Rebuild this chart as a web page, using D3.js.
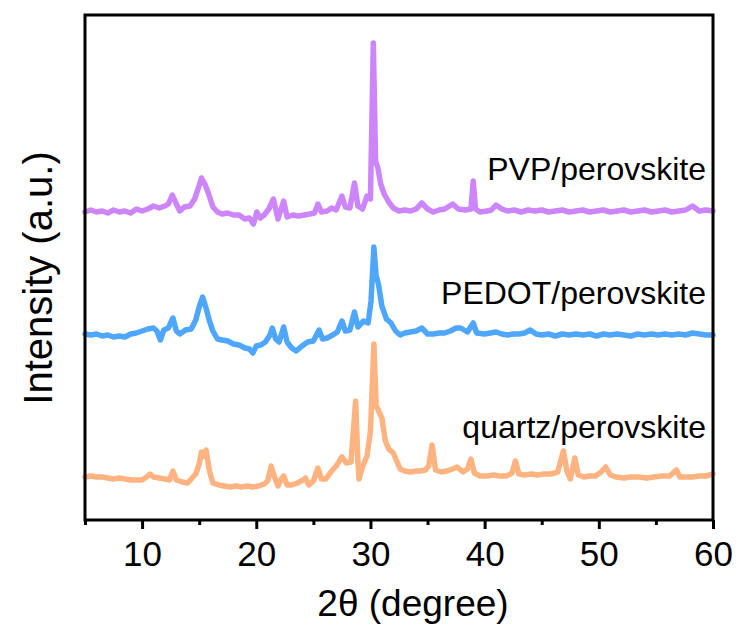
<!DOCTYPE html>
<html>
<head>
<meta charset="utf-8">
<script src="https://cdn.jsdelivr.net/npm/d3@7"></script>
<style>
  body { margin: 0; background: #fff; }
  svg text { font-family: "Liberation Sans", Arial, sans-serif; fill: #000; }
</style>
</head>
<body>
<div id="chart"></div>
<script>
// XRD patterns, 2theta (degree) vs intensity (a.u., offset per sample)
var pvpX = [5,5.5,6,6.5,7,7.5,8,8.5,9,9.5,10,10.5,11,11.5,12,12.3,12.65,13,13.3,13.7,14.2,14.6,14.9,15.2,15.5,15.8,16.2,16.6,17,17.5,18,18.5,19,19.4,19.75,20.05,20.35,20.7,21.1,21.5,21.9,22.4,22.7,23.2,23.7,24.2,24.7,25.1,25.4,25.7,26.2,26.6,27,27.5,27.8,28.2,28.6,28.9,29.3,29.7,30,30.25,30.45,30.65,30.9,31.2,31.6,32,32.5,33,33.5,34,34.5,35,35.5,36,36.5,37.2,37.7,38.3,38.8,39,39.2,39.6,40.2,40.6,41,41.5,42,42.6,43.2,43.8,44.4,45,45.6,46.2,46.8,47.4,48,48.6,49.2,49.8,50.4,51,51.6,52.2,52.8,53.4,54,54.6,55.2,55.8,56.4,57,57.6,58.2,58.8,59.4,60];
var pvpY = [308,310,308,309,307,310,308,309,307,311,309,311,314,312,314,316,325,316,309,313,314,321,331,342,336,327,313,308,306,307,305,305,301,302,296,308,302,305,311,321,301,319,303,305,304,305,306,307,316,308,309,312,310,324,313,312,337,314,311,324,321,477,359,352,336,326,318,312,309,310,309,311,317,311,308,310,311,316,311,310,311,339,311,308,309,310,315,311,309,310,308,310,309,310,308,309,310,308,309,310,308,309,310,308,309,310,308,309,310,308,309,310,308,309,310,314,309,310,309];

var pedotX = [5,5.5,6,6.5,7,7.5,8,8.5,9,9.5,10,10.5,11,11.3,11.6,11.9,12.3,12.7,13,13.3,13.8,14.3,14.7,15,15.3,15.6,15.9,16.2,16.6,17,17.5,18,18.5,19,19.4,19.7,20,20.4,20.8,21.2,21.4,21.7,22,22.4,22.7,23.1,23.5,24,24.5,25,25.5,25.8,26.2,26.7,27.1,27.5,27.8,28.2,28.6,28.9,29.4,29.8,30.05,30.3,30.5,30.7,31,31.4,31.8,32.2,32.6,33,33.5,34,34.5,35,35.5,36,36.5,37,37.5,37.9,38.5,39,39.3,40,40.5,41,41.5,42,42.5,43,43.5,44,44.5,45,45.6,46.2,46.8,47.4,48,48.6,49.2,49.8,50.4,51,51.6,52.2,52.8,53.4,54,54.6,55.2,55.8,56.4,57,57.6,58.2,58.8,59.4,60];
var pedotY = [186,185,186,184,185,183,184,183,186,187,189,191,192,189,180,190,192,202,189,186,190,191,200,213,223,212,199,189,181,180,179,176,175,172,171,167,174,175,178,185,192,181,178,193,178,172,169,174,178,179,190,181,182,185,188,199,189,190,208,193,199,197,219,273,244,236,214,201,197,189,185,187,188,189,192,186,186,187,187,189,192,192,188,197,187,186,187,188,186,185,186,186,187,190,186,185,186,184,186,185,186,185,186,184,186,185,186,185,184,186,185,186,185,186,185,186,185,187,186,185,185];

var quartzX = [5,5.5,6,6.5,7,7.5,8,8.5,9,9.5,10,10.4,10.7,11,11.5,12,12.4,12.7,13,13.5,14,14.3,14.7,15,15.2,15.4,15.6,15.9,16.2,16.7,17.2,17.7,18.2,18.7,19.2,19.7,20.2,20.7,21,21.3,21.6,21.9,22.2,22.4,22.7,23.1,23.6,24.1,24.3,24.6,25,25.4,25.7,26.1,26.6,27,27.5,27.9,28.3,28.7,28.9,29,29.3,29.7,30,30.3,30.5,30.8,31,31.3,31.6,32,32.3,32.6,33,33.5,34,34.4,34.8,35.1,35.4,35.7,36.2,36.7,37.2,37.6,38.1,38.5,38.8,39.1,39.6,40.2,40.8,41.3,41.9,42.4,42.7,43,43.5,44.1,44.6,45.2,45.8,46.4,46.9,47.2,47.5,47.9,48.2,48.7,49.2,49.7,50.2,50.6,51,51.5,52.2,52.8,53.5,54.2,54.8,55.5,56.2,56.8,57.1,57.6,58.2,58.8,59.4,60];
var quartzY = [43,44,43,43,42,41,42,41,40,40,40,43,46,43,42,41,40,49,40,38,37,41,46,56,68,64,70,49,37,35,34,33,34,33,34,33,34,36,39,54,43,34,41,44,35,35,37,40,42,35,39,52,41,41,49,54,63,57,58,119,59,41,53,64,89,176,114,107,102,79,71,67,59,51,49,48,49,49,50,54,75,50,48,49,51,53,48,51,61,47,44,44,45,44,44,47,59,46,45,46,45,46,46,48,69,49,41,62,45,43,44,44,48,53,45,43,42,43,43,42,43,44,44,50,43,43,43,44,44,46];

var seriesNames = ["PVP/perovskite", "PEDOT/perovskite", "quartz/perovskite"];
var seriesColors = ["#cc85fb", "#4fa7fd", "#ffb381"];
var labelY = [340, 216, 82];   // label baseline, in intensity units
var xTicks = [10, 20, 30, 40, 50, 60];
var xMinorTicks = [5, 15, 25, 35, 45, 55];

var W = 739, H = 628;
var mLeft = 85, mRight = 713, mTop = 15, mBottom = 520;

var svg = d3.select("#chart").append("svg")
    .attr("width", W)
    .attr("height", H);

var x = d3.scaleLinear().domain([5, 60]).range([mLeft, mRight]);
var y = d3.scaleLinear().domain([0, 505]).range([mBottom, mTop]);

var data = [
    {x: pvpX, y: pvpY},
    {x: pedotX, y: pedotY},
    {x: quartzX, y: quartzY}
];

var line = d3.line()
    .x(function(d){ return x(d[0]); })
    .y(function(d){ return y(d[1]); });

data.forEach(function(s, i){
    var pts = s.x.map(function(v, j){ return [v, s.y[j]]; });
    svg.append("path")
        .datum(pts)
        .attr("d", line)
        .attr("fill", "none")
        .attr("stroke", seriesColors[i])
        .attr("stroke-width", 5.5)
        .attr("stroke-linejoin", "round")
        .attr("stroke-linecap", "round");
});

// sample labels
svg.selectAll(".lbl")
    .data(seriesNames)
    .enter()
    .append("text")
    .attr("class", "lbl")
    .attr("x", mRight - 7)
    .attr("y", function(d, i){ return y(labelY[i]); })
    .attr("text-anchor", "end")
    .style("font-size", "32px")
    .text(function(d){ return d; });

// bottom axis, major + minor ticks
var xAxis = svg.append("g")
    .attr("transform", "translate(0," + mBottom + ")")
    .call(d3.axisBottom(x).tickValues(xTicks).tickSize(9).tickPadding(12).tickFormat(d3.format("d")));
xAxis.select(".domain").remove();
xAxis.selectAll("line").attr("stroke", "#000").attr("stroke-width", 3);
xAxis.selectAll("text").style("font-size", "35px").attr("font-family", null);

var xMinor = svg.append("g")
    .attr("transform", "translate(0," + mBottom + ")")
    .call(d3.axisBottom(x).tickValues(xMinorTicks).tickSize(5).tickFormat(""));
xMinor.select(".domain").remove();
xMinor.selectAll("line").attr("stroke", "#000").attr("stroke-width", 3);

// frame
svg.append("rect")
    .attr("x", mLeft)
    .attr("y", mTop)
    .attr("width", mRight - mLeft)
    .attr("height", mBottom - mTop)
    .attr("fill", "none")
    .attr("stroke", "#000")
    .attr("stroke-width", 3);

// axis titles
svg.append("text")
    .attr("x", (mLeft + mRight) / 2 + 14)
    .attr("y", 616)
    .attr("text-anchor", "middle")
    .style("font-size", "37px")
    .text("2\u03b8 (degree)");

svg.append("text")
    .attr("transform", "translate(52,278) rotate(-90)")
    .attr("text-anchor", "middle")
    .style("font-size", "40px")
    .text("Intensity (a.u.)");
</script>
</body>
</html>
